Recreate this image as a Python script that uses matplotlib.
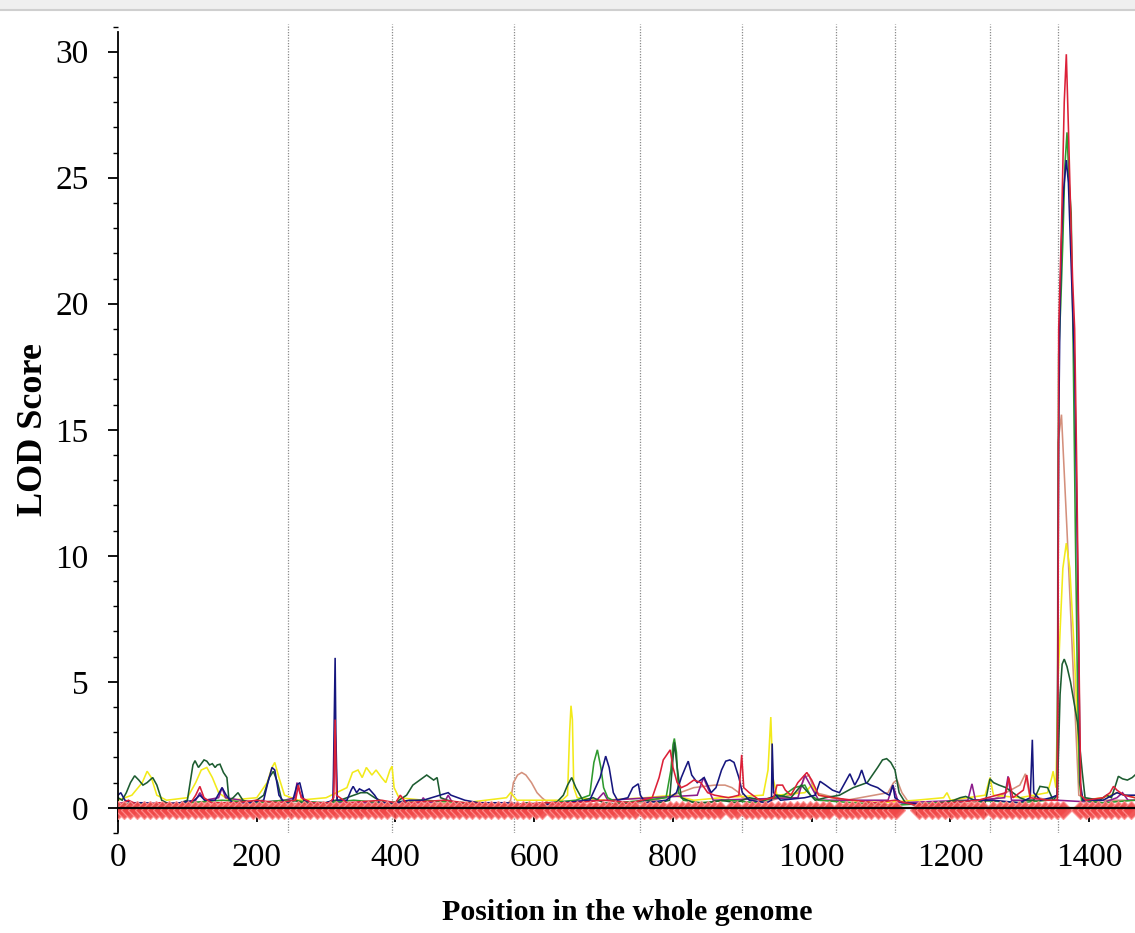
import matplotlib
matplotlib.use("Agg")
import matplotlib.pyplot as plt
from matplotlib.ticker import MultipleLocator
from matplotlib.patches import Rectangle
from matplotlib.lines import Line2D

plt.rcParams['font.family'] = ['Liberation Serif', 'DejaVu Serif']

# Chromosome boundaries along the concatenated genome (cM)
chrom_bounds = [245, 395, 571, 753, 900, 1035, 1120, 1257, 1355]

# Marker positions (cM)
markers = [0, 9, 18, 27, 37, 46, 55, 64, 74, 83, 92, 101, 111, 120, 129, 138, 148, 157,
           166, 175, 185, 194, 203, 212, 222, 231, 240,
           250, 259, 268, 277, 287, 296, 305, 314, 324, 333, 342, 351, 361, 370, 379, 388,
           400, 409, 418, 427, 437, 446, 455, 464, 474, 483, 492, 501, 511, 520, 529, 538,
           548, 557, 566,
           575, 584, 593, 602, 611, 625, 634, 643, 652, 662, 671, 680, 689, 699, 708, 717, 726,
           736, 745,
           758, 767, 776, 785, 795, 804, 813, 822, 832, 841, 850, 859, 868, 884, 893,
           905, 914, 923, 932, 942, 951, 960, 969, 979, 988, 997, 1006, 1016, 1025,
           1040, 1049, 1058, 1067, 1077, 1086, 1095, 1104, 1114, 1122,
           1155, 1164, 1173, 1182, 1192, 1201, 1210, 1219, 1229, 1238, 1247,
           1262, 1271, 1280, 1289, 1299, 1308, 1317, 1326, 1336, 1345, 1354, 1362,
           1386, 1395, 1404, 1413, 1423, 1432, 1441, 1450, 1460]

# LOD profiles: (position cM, LOD)
lod_salmon = [(0, 0.1), (100, 0.2), (240, 0.2), (300, 0.1), (440, 0.2), (560, 0.1), (566, 0.3),
              (570, 1.0), (576, 1.3), (582, 1.4), (588, 1.3), (596, 1.0), (604, 0.6), (611, 0.4),
              (620, 0.2), (650, 0.1), (760, 0.2), (800, 0.5), (830, 0.8), (860, 0.9), (875, 0.9),
              (885, 0.8), (895, 0.6), (900, 0.4), (930, 0.2), (980, 0.6), (990, 1.2), (996, 1.3),
              (1005, 0.6), (1050, 0.3), (1110, 0.6), (1118, 1.0), (1123, 1.1), (1130, 0.6),
              (1140, 0.2), (1200, 0.1), (1260, 0.3), (1300, 0.9), (1308, 1.35), (1314, 0.5),
              (1340, 0.3), (1354, 0.3), (1355, 14.5), (1360, 15.6), (1368, 11.0), (1376, 6.0),
              (1385, 0.5), (1400, 0.3), (1466, 0.3)]

lod_yellow = [(0, 0.3), (20, 0.5), (35, 1.0), (42, 1.45), (48, 1.2), (56, 0.5), (70, 0.3),
              (100, 0.4), (112, 1.0), (120, 1.5), (128, 1.6), (136, 1.2), (145, 0.6), (160, 0.3),
              (200, 0.4), (215, 1.0), (222, 1.6), (226, 1.8), (232, 1.2), (240, 0.5), (260, 0.3),
              (300, 0.4), (330, 0.8), (338, 1.4), (346, 1.5), (352, 1.2), (358, 1.6), (366, 1.3),
              (372, 1.5), (380, 1.2), (386, 1.0), (392, 1.5), (395, 1.65), (398, 0.8), (405, 0.4),
              (440, 0.3), (500, 0.2), (560, 0.4), (566, 0.6), (575, 0.3), (640, 0.3), (648, 0.5),
              (651, 3.0), (653, 4.05), (655, 3.5), (657, 0.8), (662, 0.4), (700, 0.3), (760, 0.4),
              (800, 0.5), (830, 0.3), (870, 0.4), (930, 0.5), (937, 1.5), (941, 3.6), (944, 1.2),
              (950, 0.5), (990, 0.6), (1000, 0.9), (1010, 0.5), (1050, 0.3), (1100, 0.2),
              (1150, 0.3), (1190, 0.4), (1195, 0.6), (1200, 0.3), (1250, 0.5), (1257, 1.2),
              (1262, 0.5), (1300, 0.4), (1340, 0.6), (1346, 1.2), (1348, 1.45), (1352, 0.8),
              (1355, 5.0), (1358, 7.0), (1362, 9.5), (1367, 10.5), (1372, 9.5), (1377, 7.0),
              (1382, 4.0), (1386, 1.0), (1390, 0.3), (1420, 0.4), (1440, 0.6), (1466, 0.4)]

lod_purple = [(0, 0.2), (40, 0.1), (100, 0.2), (112, 0.3), (118, 0.6), (125, 0.3), (145, 0.4),
              (150, 0.8), (155, 0.4), (200, 0.2), (240, 0.3), (255, 0.4), (258, 1.0), (262, 0.6),
              (270, 0.2), (310, 0.2), (313, 3.0), (316, 0.2), (400, 0.2), (436, 0.2), (440, 0.4),
              (445, 0.2), (472, 0.3), (476, 0.5), (482, 0.2), (560, 0.1), (690, 0.3), (700, 0.6),
              (706, 0.3), (835, 0.5), (844, 1.2), (850, 0.8), (858, 0.3), (980, 0.4), (990, 1.3),
              (1000, 0.8), (1010, 0.3), (1110, 0.3), (1117, 0.9), (1125, 0.2), (1225, 0.3),
              (1231, 0.95), (1236, 0.3), (1278, 0.4), (1283, 1.25), (1288, 0.3), (1354, 0.3),
              (1420, 0.2), (1440, 0.4), (1448, 0.6), (1456, 0.3), (1466, 0.3)]

lod_green = [(0, 0.1), (20, 0.2), (60, 0.1), (100, 0.2), (150, 0.3), (200, 0.2), (240, 0.3),
             (300, 0.2), (340, 0.3), (380, 0.2), (440, 0.3), (500, 0.2), (560, 0.1), (620, 0.2),
             (660, 0.3), (680, 0.5), (686, 1.8), (691, 2.3), (696, 1.6), (700, 0.8), (706, 0.4),
             (720, 0.2), (760, 0.3), (790, 0.4), (797, 1.5), (800, 2.5), (802, 2.75), (805, 2.2),
             (808, 0.6), (815, 0.3), (840, 0.2), (880, 0.3), (920, 0.2), (960, 0.5), (975, 0.8),
             (990, 0.9), (998, 0.5), (1010, 0.3), (1060, 0.2), (1120, 0.1), (1180, 0.2),
             (1240, 0.3), (1300, 0.2), (1340, 0.3), (1354, 0.5), (1356, 18.0), (1359, 20.0),
             (1362, 22.5), (1365, 25.5), (1368, 26.8), (1371, 24.8), (1374, 23.6), (1377, 18.0),
             (1380, 11.0), (1383, 5.0), (1386, 1.0), (1389, 0.3), (1420, 0.2), (1466, 0.3)]

lod_darkgreen = [(0, 0.4), (6, 0.3), (12, 0.6), (18, 1.0), (24, 1.27), (30, 1.1), (36, 0.9),
                 (42, 1.0), (50, 1.2), (56, 0.9), (63, 0.3), (70, 0.2), (80, 0.15), (90, 0.2),
                 (100, 0.3), (104, 1.0), (108, 1.7), (111, 1.87), (116, 1.6), (120, 1.75),
                 (124, 1.9), (128, 1.85), (132, 1.7), (136, 1.75), (140, 1.6), (143, 1.7),
                 (147, 1.73), (152, 1.4), (157, 1.2), (160, 0.3), (166, 0.4), (173, 0.6),
                 (180, 0.3), (190, 0.2), (200, 0.3), (210, 0.5), (218, 1.2), (224, 1.45),
                 (230, 1.0), (236, 0.3), (245, 0.2), (255, 0.3), (265, 0.2), (280, 0.15),
                 (300, 0.2), (313, 0.3), (320, 0.3), (340, 0.5), (350, 0.6), (359, 0.6),
                 (370, 0.4), (385, 0.2), (395, 0.15), (405, 0.3), (416, 0.5), (425, 0.9),
                 (435, 1.1), (445, 1.3), (450, 1.2), (455, 1.1), (460, 1.2), (465, 0.4),
                 (475, 0.3), (490, 0.2), (510, 0.15), (530, 0.2), (550, 0.1), (570, 0.1),
                 (590, 0.2), (610, 0.1), (630, 0.15), (642, 0.5), (648, 0.9), (654, 1.2),
                 (660, 0.8), (670, 0.3), (685, 0.4), (700, 0.2), (720, 0.15), (740, 0.2),
                 (760, 0.3), (780, 0.2), (795, 0.3), (802, 2.6), (806, 1.6), (812, 0.4),
                 (830, 0.2), (850, 0.2), (870, 0.3), (890, 0.2), (910, 0.4), (930, 0.3),
                 (950, 0.5), (970, 0.4), (985, 0.9), (995, 0.6), (1005, 0.3), (1020, 0.4),
                 (1040, 0.5), (1060, 0.8), (1080, 1.0), (1095, 1.6), (1102, 1.9), (1108, 1.95),
                 (1114, 1.8), (1120, 1.5), (1126, 0.6), (1135, 0.2), (1150, 0.1), (1170, 0.1),
                 (1190, 0.2), (1205, 0.3), (1214, 0.4), (1222, 0.45), (1235, 0.3), (1250, 0.2),
                 (1257, 1.15), (1262, 1.0), (1270, 0.9), (1280, 0.8), (1290, 0.6), (1300, 0.4),
                 (1310, 0.3), (1320, 0.3), (1329, 0.85), (1340, 0.8), (1348, 0.3), (1354, 0.5),
                 (1358, 4.5), (1361, 5.7), (1364, 5.9), (1368, 5.6), (1373, 5.0), (1378, 4.2),
                 (1383, 3.4), (1390, 1.4), (1394, 0.4), (1405, 0.35), (1415, 0.3), (1425, 0.5),
                 (1432, 0.4), (1438, 0.9), (1442, 1.25), (1448, 1.15), (1455, 1.1), (1462, 1.2),
                 (1466, 1.3)]

lod_navy = [(0, 0.5), (4, 0.6), (10, 0.3), (20, 0.2), (40, 0.2), (60, 0.15), (90, 0.2),
            (110, 0.3), (118, 0.5), (125, 0.3), (140, 0.3), (150, 0.8), (156, 0.5), (165, 0.2),
            (190, 0.2), (210, 0.3), (216, 1.0), (222, 1.6), (226, 1.5), (232, 0.5), (240, 0.2),
            (252, 0.3), (258, 0.9), (262, 1.0), (268, 0.3), (280, 0.2), (300, 0.2), (310, 0.3),
            (312, 4.0), (313, 5.95), (314, 3.0), (316, 0.3), (330, 0.3), (336, 0.7), (339, 0.85),
            (344, 0.6), (348, 0.75), (355, 0.65), (362, 0.75), (370, 0.5), (377, 0.2), (400, 0.2),
            (420, 0.3), (440, 0.3), (476, 0.6), (480, 0.5), (500, 0.3), (520, 0.2), (560, 0.2),
            (600, 0.1), (640, 0.2), (680, 0.3), (695, 1.2), (703, 2.05), (708, 1.6), (714, 0.6),
            (720, 0.3), (735, 0.4), (742, 0.8), (750, 0.95), (753, 0.5), (760, 0.2), (790, 0.3),
            (805, 0.6), (812, 1.2), (818, 1.6), (822, 1.85), (827, 1.3), (835, 1.0), (845, 1.2),
            (855, 0.6), (862, 0.8), (870, 1.5), (876, 1.85), (882, 1.9), (888, 1.8), (895, 1.2),
            (900, 0.6), (910, 0.3), (935, 0.2), (942, 0.3), (943, 2.55), (945, 0.6), (955, 0.3),
            (990, 0.4), (1005, 0.5), (1012, 1.05), (1020, 0.9), (1030, 0.7), (1040, 0.6),
            (1050, 1.1), (1055, 1.35), (1062, 0.9), (1068, 1.2), (1072, 1.5), (1078, 1.0),
            (1085, 0.9), (1095, 0.8), (1105, 0.6), (1112, 0.5), (1117, 0.9), (1120, 0.4),
            (1130, 0.2), (1180, 0.1), (1230, 0.3), (1260, 0.3), (1300, 0.2), (1315, 0.4),
            (1317, 2.0), (1318, 2.7), (1320, 0.6), (1330, 0.3), (1345, 0.4), (1354, 0.5),
            (1356, 15.0), (1358, 20.0), (1360, 22.5), (1363, 24.5), (1367, 25.7), (1370, 24.8),
            (1373, 22.3), (1376, 19.9), (1379, 17.5), (1382, 12.0), (1385, 6.0), (1387, 1.0),
            (1391, 0.3), (1420, 0.3), (1440, 0.6), (1450, 0.5), (1466, 0.5)]

lod_red = [(0, 0.1), (15, 0.3), (30, 0.1), (60, 0.2), (90, 0.1), (105, 0.2), (112, 0.5),
           (118, 0.85), (124, 0.4), (135, 0.2), (170, 0.2), (200, 0.3), (230, 0.2), (256, 0.3),
           (260, 0.9), (264, 0.4), (280, 0.2), (305, 0.2), (311, 0.4), (313, 3.5), (315, 0.5),
           (330, 0.2), (380, 0.3), (400, 0.2), (407, 0.5), (415, 0.2), (470, 0.3), (500, 0.2),
           (560, 0.1), (620, 0.2), (660, 0.2), (700, 0.3), (740, 0.2), (770, 0.4), (780, 1.2),
           (786, 1.9), (791, 2.1), (796, 2.3), (800, 1.6), (806, 1.0), (812, 0.8), (820, 0.9),
           (830, 1.1), (840, 1.0), (850, 0.6), (860, 0.5), (880, 0.4), (895, 0.5), (899, 2.1),
           (902, 0.8), (910, 0.6), (925, 0.3), (945, 0.4), (950, 0.9), (958, 0.9), (962, 0.7),
           (970, 0.5), (980, 1.0), (993, 1.4), (1000, 1.1), (1010, 0.5), (1030, 0.4),
           (1060, 0.3), (1090, 0.2), (1120, 0.3), (1150, 0.1), (1200, 0.2), (1240, 0.3),
           (1280, 0.6), (1284, 1.2), (1290, 0.4), (1305, 0.7), (1310, 1.3), (1315, 0.4),
           (1340, 0.3), (1354, 0.3), (1355, 5.0), (1356, 19.0), (1360, 23.0), (1364, 28.0),
           (1367, 29.9), (1370, 27.0), (1372, 24.9), (1376, 21.0), (1379, 19.0), (1382, 13.5),
           (1386, 4.3), (1388, 0.5), (1395, 0.3), (1420, 0.4), (1430, 0.6), (1435, 0.85),
           (1440, 0.7), (1450, 0.5), (1466, 0.4)]

series = [
    (lod_salmon, '#d4907c'),
    (lod_yellow, '#f2ea1a'),
    (lod_purple, '#8c1c8c'),
    (lod_green, '#2e9a2e'),
    (lod_darkgreen, '#1c5c30'),
    (lod_navy, '#16167e'),
    (lod_red, '#dc2038'),
]

W, H = 1135, 933
fig = plt.figure(figsize=(W / 100, H / 100), dpi=100)
fig.patch.set_facecolor('white')

# thin grey strip along the top edge
fig.patches.append(Rectangle((0, 1 - 9 / H), 1, 9 / H, transform=fig.transFigure,
                             facecolor='#efefef', edgecolor='none', zorder=0))
fig.lines.append(Line2D([0, 1], [1 - 9.5 / H, 1 - 9.5 / H], transform=fig.transFigure,
                        color='#cfcfcf', lw=1.5))

ax = fig.add_axes([118 / W, 1 - 833 / H, 1 - 118 / W, (833 - 24) / H])
ax.set_xlim(0, 1466)
ax.set_ylim(-1.0, 31.1)

for b in chrom_bounds:
    ax.axvline(b, color='#8a8a8a', lw=0.9, ls=(0, (1, 1.2)), zorder=1)

for pts, col in series:
    xs = [p[0] for p in pts]
    ys = [p[1] for p in pts]
    ax.plot(xs, ys, color=col, lw=1.15, zorder=2, solid_joinstyle='miter')

ax.plot(markers, [-0.1] * len(markers), ls='none', marker='D', markersize=9.5,
        markerfacecolor='#f04848', markeredgecolor='#ff9090', markeredgewidth=0.9,
        alpha=0.9, zorder=3)

for side in ('top', 'right'):
    ax.spines[side].set_visible(False)
ax.spines['bottom'].set_position(('data', 0))
ax.spines['bottom'].set_linewidth(1.6)
ax.spines['bottom'].set_zorder(5)
ax.spines['left'].set_linewidth(1.3)
ax.spines['left'].set_bounds(-0.95, 30.8)

ax.xaxis.set_major_locator(MultipleLocator(200))
ax.xaxis.set_minor_locator(MultipleLocator(50))
ax.yaxis.set_major_locator(MultipleLocator(5))
ax.yaxis.set_minor_locator(MultipleLocator(1))
ax.set_yticks([0, 5, 10, 15, 20, 25, 30])
ax.tick_params(axis='x', which='major', direction='out', length=10, width=1.3,
               labelsize=24, pad=15)
ax.tick_params(axis='x', which='minor', direction='out', length=5, width=1.0)
ax.tick_params(axis='y', which='major', direction='out', length=7, width=1.3,
               labelsize=24, pad=14)
ax.tick_params(axis='y', which='minor', direction='out', length=3.5, width=1.0)

fig.text(627 / W, 1 - 912 / H, 'Position in the whole genome', ha='center', va='center',
         fontsize=21.5, fontweight='bold')
fig.text(33 / W, 1 - 430 / H, 'LOD Score', ha='center', va='center', rotation=90,
         fontsize=26, fontweight='bold')

fig.savefig('out.png', dpi=100, facecolor='white')
